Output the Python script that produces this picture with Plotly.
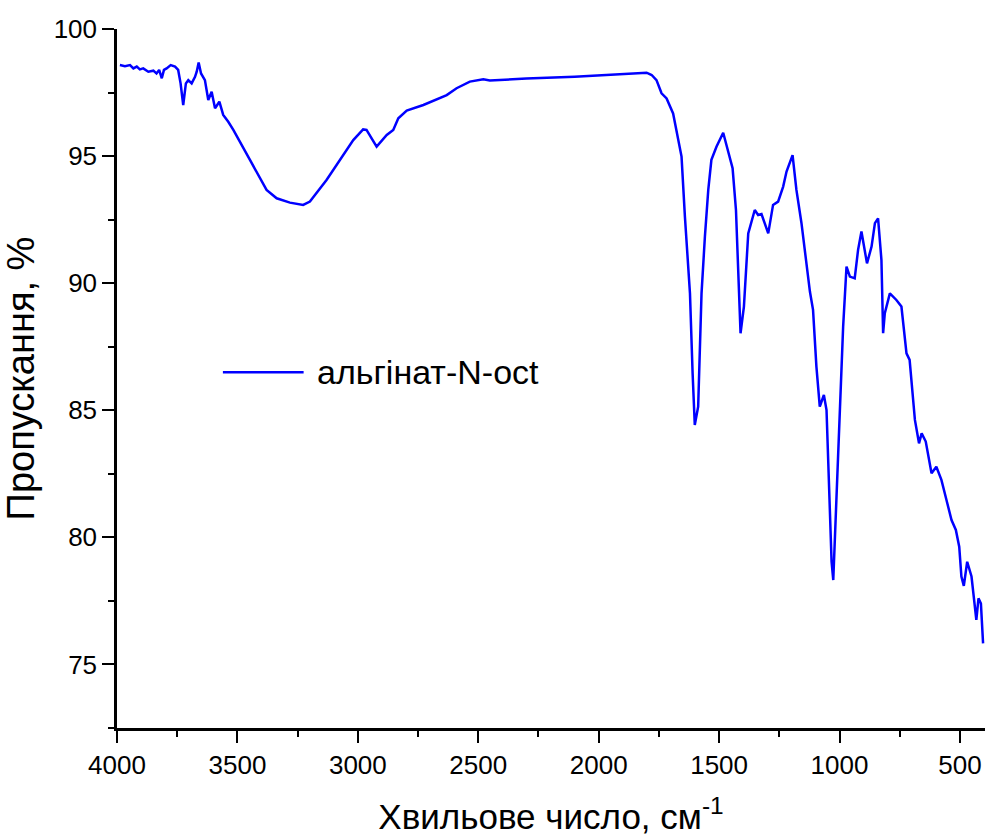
import plotly.graph_objects as go

# Data
wavenumber = [
    3988, 3967, 3946, 3932, 3918, 3905, 3891, 3870, 3849, 3836, 3825, 3814, 3805, 3794,
    3777, 3759, 3746, 3736, 3725, 3714, 3704, 3690, 3676, 3669, 3661, 3651, 3635, 3621,
    3607, 3593, 3575, 3559, 3538, 3517, 3448, 3379, 3337, 3282, 3227, 3199, 3130, 3074,
    3019, 2978, 2964, 2922, 2880, 2853, 2832, 2797, 2728, 2631, 2590, 2535, 2479, 2452,
    2300, 2100, 1912, 1801, 1780, 1760, 1739, 1718, 1691, 1677, 1656, 1642, 1621, 1610,
    1601, 1587, 1573, 1559, 1545, 1532, 1511, 1483, 1462, 1444, 1430, 1417, 1411, 1397,
    1379, 1352, 1338, 1324, 1296, 1276, 1255, 1234, 1220, 1195, 1179, 1158, 1137, 1123,
    1110, 1096, 1082, 1065, 1054, 1033, 1026, 1006, 985, 971, 957, 937, 923, 909,
    886, 867, 853, 840, 826, 819, 812, 791, 764, 743, 722, 709, 687, 670,
    659, 642, 632, 618, 598, 577, 556, 535, 517, 503, 494, 484, 470, 452,
    432, 423, 413, 404,
]
transmittance = [
    98.58, 98.54, 98.58, 98.45, 98.52, 98.41, 98.45, 98.32, 98.36, 98.25, 98.39, 98.06, 98.39, 98.45,
    98.58, 98.52, 98.39, 97.86, 97.01, 97.86, 97.99, 97.86, 98.12, 98.32, 98.68, 98.25, 97.99, 97.21,
    97.53, 96.88, 97.14, 96.62, 96.35, 96.03, 94.85, 93.67, 93.34, 93.17, 93.08, 93.21, 94.06, 94.85,
    95.63, 96.05, 96.03, 95.37, 95.83, 96.03, 96.49, 96.79, 97.01, 97.40, 97.67, 97.93, 98.02, 97.97,
    98.05, 98.12, 98.23, 98.28, 98.19, 97.99, 97.47, 97.27, 96.68, 96.03, 94.98, 92.62, 89.60, 86.45,
    84.42, 85.14, 89.60, 91.83, 93.67, 94.85, 95.37, 95.92, 95.11, 94.52, 92.88, 89.60, 88.03, 89.08,
    91.96, 92.88, 92.68, 92.72, 91.96, 93.08, 93.21, 93.80, 94.39, 95.04, 93.67, 92.36, 90.65, 89.67,
    88.95, 86.72, 85.14, 85.60, 85.01, 79.04, 78.32, 83.04, 88.29, 90.65, 90.26, 90.19, 91.31, 92.03,
    90.78, 91.44, 92.36, 92.55, 90.91, 88.03, 88.82, 89.60, 89.34, 89.08, 87.24, 86.98, 84.62, 83.70,
    84.09, 83.77, 83.18, 82.52, 82.78, 82.26, 81.47, 80.68, 80.29, 79.63, 78.46, 78.09, 79.04, 78.46,
    76.75, 77.60, 77.40, 75.83,
]
series_name = "альгінат-N-oct"
x_title = "Хвильове число, см<sup>-1</sup>"
y_title = "Пропускання, %"
x_ticks = [4000, 3500, 3000, 2500, 2000, 1500, 1000, 500]
y_ticks = [75, 80, 85, 90, 95, 100]

FONT = "Arial, 'Liberation Sans', sans-serif"
BLUE = "#0000FF"

fig = go.Figure()
fig.add_trace(go.Scatter(
    x=wavenumber, y=transmittance, mode="lines", name=series_name,
    line=dict(color=BLUE, width=2.5), showlegend=False,
))

axis_common = dict(
    showgrid=False, zeroline=False, showline=True, linecolor="black", linewidth=2.5,
    ticks="outside", tickcolor="black", tickwidth=2, ticklen=12,
    tickfont=dict(family=FONT, size=26, color="black"),
    mirror=False,
)

fig.update_xaxes(
    range=[4000, 396], tickvals=x_ticks, ticktext=[str(v) for v in x_ticks],
    minor=dict(ticks="outside", ticklen=6, tickwidth=2, tickcolor="black", dtick=250, tick0=0),
    title=dict(text=x_title, font=dict(family=FONT, size=35, color="black"), standoff=26),
    **axis_common,
)
fig.update_yaxes(
    range=[72.5, 100], tickvals=y_ticks, ticktext=[str(v) for v in y_ticks],
    minor=dict(ticks="outside", ticklen=6, tickwidth=2, tickcolor="black", dtick=2.5, tick0=0),
    title=dict(text=y_title, font=dict(family=FONT, size=38, color="black"), standoff=12),
    **axis_common,
)

# Manual legend (long line sample as in the reference)
fig.add_shape(type="line", xref="paper", yref="paper", x0=0.122, x1=0.215, y0=0.509, y1=0.509,
              line=dict(color=BLUE, width=2.5))
fig.add_annotation(xref="paper", yref="paper", x=0.228, y=0.509, xanchor="left", yanchor="middle",
                   text=series_name, showarrow=False,
                   font=dict(family=FONT, size=34, color="black"))

fig.update_layout(
    width=989, height=839,
    margin=dict(l=117, r=4, t=29, b=111, autoexpand=False),
    paper_bgcolor="white", plot_bgcolor="white",
    font=dict(family=FONT, color="black"),
)

fig.write_html("out.html")
